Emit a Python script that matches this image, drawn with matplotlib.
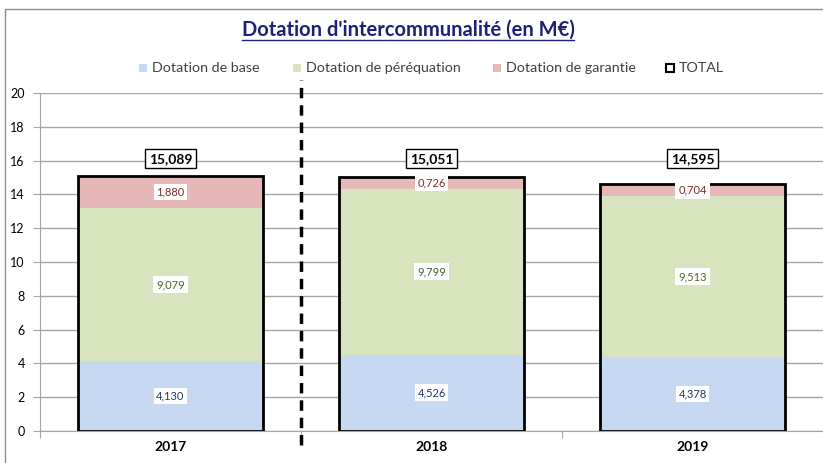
import matplotlib
matplotlib.use("Agg")
import matplotlib.pyplot as plt
from matplotlib.patches import Rectangle
import numpy as np

plt.rcParams['font.family'] = ['Lato', 'DejaVu Sans']

years = ["2017", "2018", "2019"]
base = [4.130, 4.526, 4.378]
perequation = [9.079, 9.799, 9.513]
garantie = [1.880, 0.726, 0.704]
total = [15.089, 15.051, 14.595]
series_names = ["Dotation de base", "Dotation de péréquation", "Dotation de garantie", "TOTAL"]
title = "Dotation d'intercommunalité (en M€)"

c_base = "#C6D9F1"
c_per = "#D7E4BD"
c_gar = "#E6B9B8"
t_base = "#1F3864"
t_per = "#4F6228"
t_gar = "#7B2C2C"

W, H = 823, 463
fig = plt.figure(figsize=(W/100, H/100), dpi=100)
ax = fig.add_axes([40/W, 32/H, 783/W, 338/H])

x = np.arange(len(years))
bw = 0.71
b1 = np.array(base)
b2 = b1 + np.array(perequation)
ax.bar(x, base, bw, color=c_base, zorder=2)
ax.bar(x, perequation, bw, bottom=b1, color=c_per, zorder=2)
ax.bar(x, garantie, bw, bottom=b2, color=c_gar, zorder=2)
ax.bar(x, total, bw, facecolor="none", edgecolor="black", linewidth=2, zorder=3)

def fmt(v):
    return f"{v:.3f}".replace(".", ",")

box = dict(boxstyle="square,pad=0.25", facecolor="white", edgecolor="none")
for i in range(len(years)):
    ax.text(x[i], base[i]/2, fmt(base[i]), ha="center", va="center", fontsize=8,
            color=t_base, bbox=box, zorder=4)
    ax.text(x[i], b1[i] + perequation[i]/2, fmt(perequation[i]), ha="center", va="center", fontsize=8,
            color=t_per, bbox=box, zorder=4)
    ax.text(x[i], b2[i] + garantie[i]/2, fmt(garantie[i]), ha="center", va="center", fontsize=8,
            color=t_gar, bbox=box, zorder=4)
    ax.text(x[i], 16.1, fmt(total[i]), ha="center", va="center", fontsize=10, fontweight="bold",
            color="black", bbox=dict(boxstyle="square,pad=0.25", facecolor="white", edgecolor="black", linewidth=1), zorder=4)

ax.set_xlim(-0.5, 2.5)
ax.set_ylim(0, 20)
ax.set_yticks(np.arange(0, 21, 2))
ax.yaxis.grid(True, color="#A6A6A6", linewidth=1, zorder=0)
ax.set_axisbelow(True)
for s in ["top", "right"]:
    ax.spines[s].set_visible(False)
ax.spines["left"].set_color("#A6A6A6")
ax.spines["bottom"].set_color("#A6A6A6")
ax.tick_params(axis="y", length=5, color="#A6A6A6", labelsize=9, pad=6)
ax.set_xticks([-0.5, 0.5, 1.5, 2.5], minor=False)
ax.set_xticklabels([])
ax.tick_params(axis="x", length=5, color="#A6A6A6")
ax.set_xticks(x, minor=True)
ax.set_xticklabels(years, minor=True, fontweight="bold", fontsize=10)
ax.tick_params(axis="x", which="minor", length=0, pad=7)

# dashed separator
ax.plot([0.5, 0.5], [-0.85, 20.75], color="black", linewidth=2.5, linestyle=(0, (3, 2)),
        clip_on=False, zorder=5)

# frame
fig.patches.append(Rectangle((5/W, -0.05), 1.1, (H-9)/H + 0.05, transform=fig.transFigure,
                             fill=False, edgecolor="#8C8C8C", linewidth=1))

# title with underline
t = fig.text(408/W, 1 - 30/H, title, ha="center", va="center",
             fontsize=14.5, fontweight="bold", color="#1F1F7A")
fig.canvas.draw()
bb = t.get_window_extent(renderer=fig.canvas.get_renderer())
uy = 1 - 40/H
fig.add_artist(plt.Line2D([bb.x0/W/fig.dpi*100, bb.x1/W/fig.dpi*100], [uy, uy],
                          color="#1F1F7A", linewidth=1))

# legend
leg_y = 1 - 68/H
items = [(143, c_base, series_names[0]), (297, c_per, series_names[1]),
         (497, c_gar, series_names[2]), (670, "none", series_names[3])]
for xp, col, name in items:
    if col == "none":
        fig.patches.append(Rectangle(((xp-4)/W, leg_y - 4/H), 8/W, 8/H, transform=fig.transFigure,
                                     facecolor="white", edgecolor="black", linewidth=1.5))
    else:
        fig.patches.append(Rectangle(((xp-4)/W, leg_y - 4/H), 8/W, 8/H, transform=fig.transFigure,
                                     facecolor=col, edgecolor="none"))
    fig.text((xp + 9)/W, leg_y, name, ha="left", va="center", fontsize=10.3, color="#404040")

fig.savefig("out.png", dpi=100)
